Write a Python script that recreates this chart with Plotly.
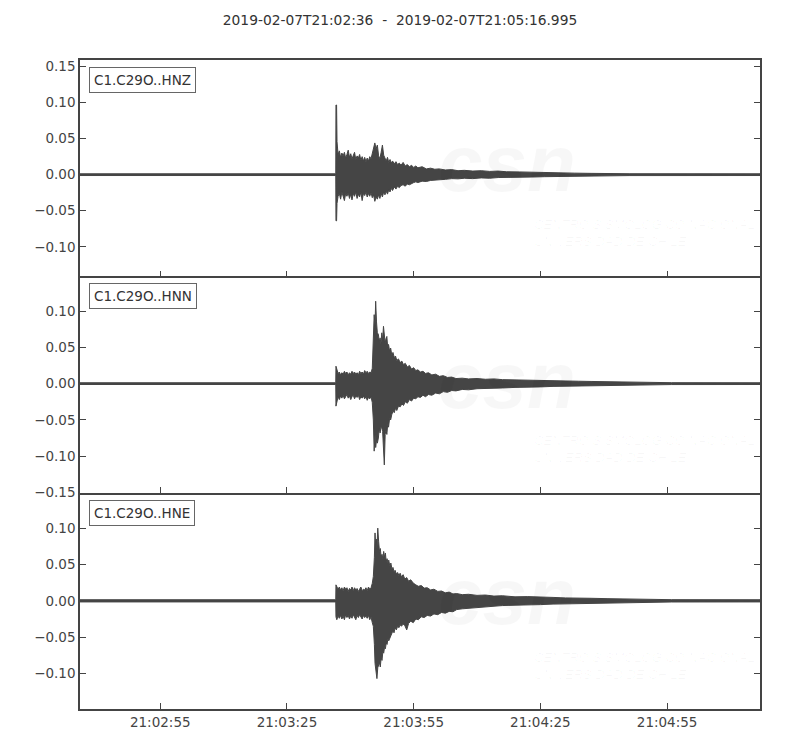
import pandas as pd
import plotly.graph_objects as go
from plotly.subplots import make_subplots

# ---------------- data (seconds after 21:02:36, amplitude envelopes) ----------------
start_time = "2019-02-07 21:02:36"
end_offset = 160.995
channels = ["C1.C29O..HNZ", "C1.C29O..HNN", "C1.C29O..HNE"]

t_hnz = [0, 60.55, 60.6, 60.75, 60.85, 61.1, 61.4, 61.7, 62.0, 62.3, 62.6, 62.9, 63.2, 63.5,
         63.8, 64.1, 64.4, 64.7, 65.0, 65.3, 65.6, 65.9, 66.2, 66.5, 66.8, 67.1, 67.4, 67.7,
         68.0, 68.3, 68.6, 68.9, 69.2, 69.5, 69.8, 70.1, 70.4, 70.7, 71.0, 71.3, 71.6, 71.9,
         72.2, 72.5, 72.8, 73.1, 73.4, 73.7, 74.0, 74.4, 74.8, 75.2, 75.6, 76.0, 76.5, 77.0,
         77.5, 78.0, 78.5, 79.0, 79.5, 80.0, 81, 82, 83, 84, 85, 86.5, 88, 89.5, 91, 93, 95,
         97, 99, 101, 104, 107, 110, 113, 117, 121, 125, 130, 160.995]
up_hnz = [0.0012, 0.0012, 0.0966, 0.0966, 0.046, 0.028, 0.033, 0.024, 0.030, 0.026, 0.031,
          0.023, 0.028, 0.034, 0.024, 0.029, 0.022, 0.027, 0.031, 0.021, 0.026, 0.023, 0.028,
          0.020, 0.025, 0.019, 0.024, 0.018, 0.023, 0.019, 0.025, 0.022, 0.030, 0.038, 0.044,
          0.036, 0.041, 0.026, 0.022, 0.031, 0.041, 0.027, 0.023, 0.019, 0.024, 0.017, 0.021,
          0.016, 0.019, 0.015, 0.018, 0.014, 0.016, 0.013, 0.017, 0.012, 0.014, 0.011, 0.013,
          0.010, 0.012, 0.0095, 0.011, 0.008, 0.009, 0.0075, 0.008, 0.0065, 0.0070, 0.0055,
          0.006, 0.005, 0.0055, 0.0045, 0.005, 0.004, 0.0038, 0.0032, 0.003, 0.0025, 0.0021,
          0.0018, 0.0015, 0.0013, 0.0012]
lo_hnz = [-0.0012, -0.0012, -0.064, -0.064, -0.040, -0.030, -0.026, -0.034, -0.024, -0.031,
          -0.036, -0.026, -0.030, -0.025, -0.033, -0.027, -0.035, -0.026, -0.030, -0.024,
          -0.033, -0.027, -0.031, -0.024, -0.036, -0.026, -0.029, -0.024, -0.031, -0.026,
          -0.030, -0.025, -0.032, -0.028, -0.037, -0.031, -0.034, -0.028, -0.033, -0.026,
          -0.031, -0.024, -0.028, -0.023, -0.027, -0.021, -0.024, -0.019, -0.022, -0.017,
          -0.020, -0.016, -0.018, -0.015, -0.014, -0.016, -0.013, -0.014, -0.012, -0.011,
          -0.010, -0.011, -0.009, -0.0095, -0.008, -0.0075, -0.007, -0.0065, -0.0055, -0.0058,
          -0.005, -0.0055, -0.0045, -0.005, -0.004, -0.0045, -0.0035, -0.0033, -0.0028,
          -0.0026, -0.002, -0.0018, -0.0015, -0.0013, -0.0012]

t_hnn = [0, 60.55, 60.6, 60.8, 61.1, 61.4, 61.7, 62.0, 62.3, 62.6, 62.9, 63.2, 63.5, 63.8,
         64.1, 64.4, 64.7, 65.0, 65.3, 65.6, 65.9, 66.2, 66.5, 66.8, 67.1, 67.4, 67.7, 68.0,
         68.3, 68.6, 68.9, 69.2, 69.45, 69.65, 69.85, 70.0, 70.2, 70.4, 70.64, 70.85, 71.05,
         71.25, 71.45, 71.65, 71.85, 72.05, 72.25, 72.45, 72.65, 72.85, 73.05, 73.3, 73.55,
         73.8, 74.1, 74.4, 74.7, 75.0, 75.4, 75.8, 76.2, 76.6, 77.0, 77.5, 78.0, 78.5, 79.0,
         79.5, 80.0, 80.6, 81.2, 81.8, 82.5, 83.3, 84.2, 85.1, 86.0, 87.0, 88.0, 89.0, 90.5,
         92, 94, 96, 98, 100, 103, 106, 109, 112, 115, 118, 121, 125, 130, 135, 140, 160.995]
up_hnn = [0.0012, 0.0012, 0.024, 0.018, 0.014, 0.016, 0.012, 0.015, 0.013, 0.017, 0.014,
          0.016, 0.012, 0.015, 0.013, 0.017, 0.014, 0.016, 0.013, 0.015, 0.012, 0.017, 0.014,
          0.016, 0.013, 0.018, 0.015, 0.017, 0.014, 0.016, 0.015, 0.021, 0.058, 0.095, 0.080,
          0.1135, 0.085, 0.070, 0.068, 0.058, 0.063, 0.055, 0.070, 0.060, 0.079, 0.064, 0.056,
          0.062, 0.065, 0.050, 0.054, 0.045, 0.049, 0.040, 0.043, 0.036, 0.038, 0.032, 0.034,
          0.029, 0.031, 0.026, 0.028, 0.023, 0.025, 0.020, 0.022, 0.018, 0.019, 0.016, 0.017,
          0.014, 0.015, 0.012, 0.013, 0.010, 0.011, 0.0085, 0.009, 0.007, 0.0075, 0.0065,
          0.007, 0.006, 0.0065, 0.0055, 0.005, 0.0048, 0.0042, 0.004, 0.0035, 0.0033, 0.003,
          0.0025, 0.002, 0.0016, 0.0013, 0.0012]
lo_hnn = [-0.0012, -0.0012, -0.031, -0.026, -0.018, -0.022, -0.017, -0.020, -0.016, -0.021,
          -0.018, -0.015, -0.020, -0.017, -0.022, -0.018, -0.016, -0.021, -0.017, -0.019,
          -0.016, -0.022, -0.018, -0.020, -0.017, -0.021, -0.018, -0.023, -0.019, -0.021,
          -0.018, -0.026, -0.050, -0.093, -0.070, -0.088, -0.078, -0.082, -0.075, -0.062,
          -0.068, -0.060, -0.061, -0.066, -0.080, -0.112, -0.070, -0.064, -0.070, -0.056,
          -0.060, -0.048, -0.050, -0.043, -0.038, -0.040, -0.034, -0.037, -0.031, -0.032,
          -0.028, -0.030, -0.025, -0.027, -0.022, -0.024, -0.020, -0.021, -0.018, -0.019,
          -0.016, -0.018, -0.015, -0.016, -0.013, -0.014, -0.011, -0.012, -0.0095, -0.010,
          -0.008, -0.0085, -0.007, -0.0065, -0.006, -0.006, -0.0052, -0.0045, -0.0045,
          -0.0038, -0.0036, -0.003, -0.003, -0.0026, -0.002, -0.0016, -0.0013, -0.0012]

t_hne = [0, 60.55, 60.6, 60.8, 61.1, 61.4, 61.7, 62.0, 62.3, 62.6, 62.9, 63.2, 63.5, 63.8,
         64.1, 64.4, 64.7, 65.0, 65.3, 65.6, 65.9, 66.2, 66.5, 66.8, 67.1, 67.4, 67.7, 68.0,
         68.3, 68.6, 68.9, 69.2, 69.45, 69.7, 69.85, 70.0, 70.15, 70.3, 70.5, 70.7, 70.9,
         71.1, 71.3, 71.5, 71.7, 71.9, 72.1, 72.3, 72.5, 72.7, 72.9, 73.1, 73.35, 73.6, 73.85,
         74.1, 74.35, 74.6, 74.9, 75.2, 75.5, 75.8, 76.1, 76.5, 76.9, 77.35, 77.8, 78.3, 78.9,
         79.5, 80.1, 80.8, 81.5, 82.2, 83.0, 83.8, 84.7, 85.6, 86.5, 87.4, 88.3, 89.2, 90.5,
         92, 94, 96, 98, 100, 103, 106, 109, 112, 115, 118, 121, 125, 130, 135, 140, 160.995]
up_hne = [0.0015, 0.0015, 0.022, 0.020, 0.016, 0.019, 0.015, 0.018, 0.014, 0.019, 0.016,
          0.018, 0.013, 0.017, 0.015, 0.019, 0.014, 0.018, 0.015, 0.017, 0.013, 0.016, 0.019,
          0.014, 0.016, 0.015, 0.018, 0.014, 0.019, 0.016, 0.018, 0.024, 0.0335, 0.060, 0.0934,
          0.075, 0.085, 0.072, 0.100, 0.082, 0.068, 0.072, 0.060, 0.064, 0.058, 0.068, 0.060,
          0.0658, 0.054, 0.058, 0.052, 0.056, 0.048, 0.052, 0.044, 0.046, 0.040, 0.042, 0.037,
          0.039, 0.035, 0.038, 0.033, 0.036, 0.030, 0.032, 0.027, 0.029, 0.0244, 0.022, 0.020,
          0.021, 0.0175, 0.018, 0.015, 0.016, 0.013, 0.0135, 0.011, 0.012, 0.0095, 0.010,
          0.0085, 0.009, 0.0075, 0.008, 0.0065, 0.007, 0.0055, 0.0058, 0.0048, 0.0047, 0.004,
          0.0042, 0.0035, 0.003, 0.0025, 0.002, 0.0016, 0.0015]
lo_hne = [-0.0015, -0.0015, -0.022, -0.026, -0.021, -0.024, -0.020, -0.025, -0.021, -0.026,
          -0.019, -0.023, -0.020, -0.025, -0.021, -0.024, -0.019, -0.022, -0.026, -0.020,
          -0.023, -0.019, -0.022, -0.025, -0.020, -0.023, -0.021, -0.024, -0.020, -0.026,
          -0.022, -0.030, -0.035, -0.060, -0.086, -0.095, -0.100, -0.107, -0.092, -0.090,
          -0.085, -0.091, -0.078, -0.082, -0.070, -0.072, -0.064, -0.066, -0.058, -0.060,
          -0.052, -0.055, -0.050, -0.047, -0.045, -0.041, -0.044, -0.037, -0.040, -0.035,
          -0.037, -0.033, -0.035, -0.032, -0.034, -0.040, -0.031, -0.028, -0.030, -0.025,
          -0.026, -0.022, -0.023, -0.020, -0.021, -0.018, -0.019, -0.016, -0.017, -0.0145,
          -0.015, -0.012, -0.011, -0.0095, -0.0095, -0.008, -0.0075, -0.0065, -0.006, -0.0052,
          -0.0052, -0.0045, -0.0045, -0.0038, -0.0037, -0.003, -0.0025, -0.002, -0.0016,
          -0.0015]

y_ranges = [[-0.141, 0.159], [-0.1502, 0.1478], [-0.1488, 0.1488]]
y_ticks = [[-0.10, -0.05, 0.0, 0.05, 0.10, 0.15],
           [-0.15, -0.10, -0.05, 0.0, 0.05, 0.10],
           [-0.15, -0.10, -0.05, 0.0, 0.05, 0.10]]
x_tick_labels = ["21:02:55", "21:03:25", "21:03:55", "21:04:25", "21:04:55"]

# ---------------- figure ----------------
t0 = pd.Timestamp(start_time)


def to_dt(seconds):
    return [(t0 + pd.to_timedelta(s, unit="s")).strftime("%Y-%m-%d %H:%M:%S.%f")[:-3]
            for s in seconds]


TRACE = "#454545"
AX = "#444444"
FONT = "DejaVu Sans"
W, H = 792, 742

fig = make_subplots(rows=3, cols=1, shared_xaxes=True, vertical_spacing=0)

series = [(t_hnz, up_hnz, lo_hnz), (t_hnn, up_hnn, lo_hnn), (t_hne, up_hne, lo_hne)]
for i, (tt, up, lo) in enumerate(series):
    xs = to_dt(tt) + to_dt(tt[::-1])
    ys = up + lo[::-1]
    fig.add_trace(go.Scatter(x=xs, y=ys, mode="lines", fill="toself",
                             fillcolor=TRACE, line=dict(color=TRACE, width=1),
                             showlegend=False, hoverinfo="skip"), row=i + 1, col=1)

x_range = [t0.strftime("%Y-%m-%d %H:%M:%S"),
           (t0 + pd.to_timedelta(end_offset, unit="s")).strftime("%Y-%m-%d %H:%M:%S.%f")[:-3]]
tick_vals = [pd.Timestamp("2019-02-07 " + s).strftime("%Y-%m-%d %H:%M:%S") for s in x_tick_labels]

for i in range(3):
    fig.update_xaxes(row=i + 1, col=1, range=x_range, tickmode="array", tickvals=tick_vals,
                     ticktext=x_tick_labels, showticklabels=(i == 2), ticks="inside",
                     ticklen=6, tickwidth=1, tickcolor=AX, showline=True, linecolor=AX,
                     linewidth=1.5, mirror=(i == 0), showgrid=False, zeroline=False,
                     tickfont=dict(family=FONT, size=13.5, color=AX))
    fig.update_yaxes(row=i + 1, col=1, range=y_ranges[i], tickmode="array",
                     tickvals=y_ticks[i],
                     ticktext=[f"{v:.2f}".replace("-", "\u2212") for v in y_ticks[i]],
                     ticks="inside", ticklen=6, tickwidth=1, tickcolor=AX, showline=True,
                     linecolor=AX, linewidth=1.5, mirror="ticks", showgrid=False,
                     zeroline=False, tickfont=dict(family=FONT, size=13.5, color=AX))

annotations = []
wm = "rgba(0,0,0,0.03)"
for i, name in enumerate(channels):
    yref = "y domain" if i == 0 else f"y{i + 1} domain"
    xref = "x domain" if i == 0 else f"x{i + 1} domain"
    # faint watermark
    annotations.append(dict(text="<b><i>csn</i></b>", xref=xref, yref=yref, x=0.628, y=0.52,
                            xanchor="center", yanchor="middle", showarrow=False,
                            font=dict(family="Liberation Sans", size=80, color=wm)))
    annotations.append(dict(text="<i>CENTRO SISMOLÓGICO NACIONAL<br>UNIVERSIDAD DE CHILE</i>",
                            xref=xref, yref=yref, x=0.665, y=0.2, align="left",
                            xanchor="left", yanchor="middle", showarrow=False,
                            font=dict(family="Liberation Sans", size=13, color=wm)))
    annotations.append(dict(text=name, xref=xref, yref=yref, x=0.0132, y=0.968,
                            xanchor="left", yanchor="top", showarrow=False,
                            font=dict(family=FONT, size=13.5, color="#333333"),
                            bordercolor="#666666", borderwidth=1, borderpad=4,
                            bgcolor="white"))

fig.update_layout(
    width=W, height=H,
    margin=dict(l=72, r=40, t=52, b=41),
    paper_bgcolor="white", plot_bgcolor="white",
    title=dict(text="2019-02-07T21:02:36\u00a0\u00a0-\u00a0\u00a02019-02-07T21:05:16.995",
               x=(400 - 8) / W, xanchor="center", y=1 - 12 / H, yanchor="middle",
               font=dict(family=FONT, size=13.8, color="#333333")),
    annotations=annotations,
    showlegend=False,
)

fig.write_html("out.html")
